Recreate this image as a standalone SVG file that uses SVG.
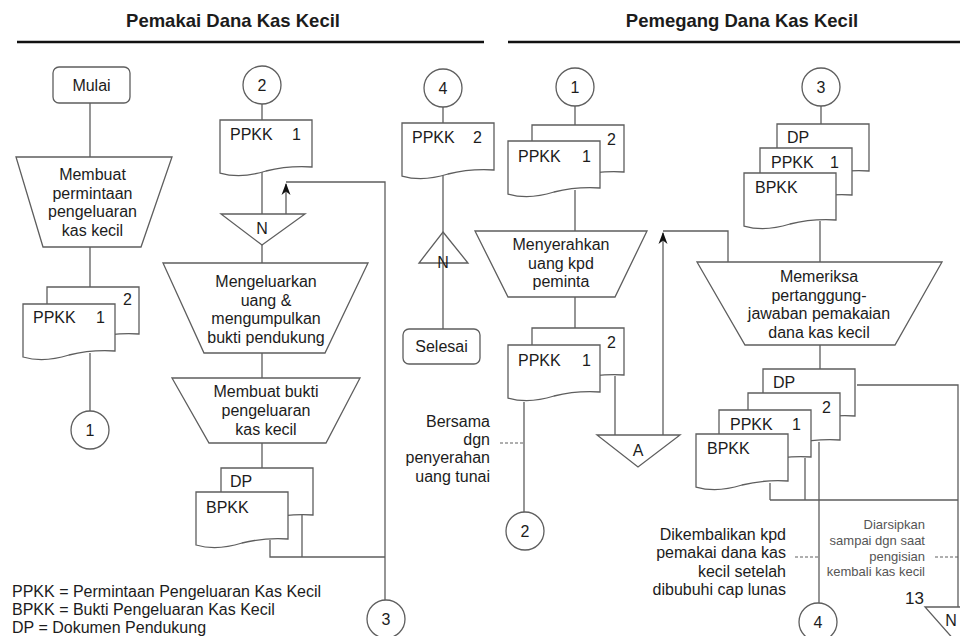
<svg xmlns="http://www.w3.org/2000/svg" xmlns:xlink="http://www.w3.org/1999/xlink" width="960" height="636" viewBox="0 0 960 636">
<style>
.ln{fill:none;stroke:#5e5e5e;stroke-width:1.3}
.sh{fill:#fff;stroke:#5e5e5e;stroke-width:1.3}
.dash{fill:none;stroke:#5e5e5e;stroke-width:1;stroke-dasharray:3,2}
.hd{fill:none;stroke:#111;stroke-width:2.5}
text{font-family:"Liberation Sans",Arial,sans-serif;fill:#1c1c1c}
.t{font-size:16px;text-anchor:middle}
.d{font-size:16px}
.h{font-size:18.5px;font-weight:bold;text-anchor:middle}
.n{font-size:16px;text-anchor:end}
.g{font-size:13px;text-anchor:end;fill:#555}
</style>
<defs>
<path id="doc" d="M0,0 H92 V47 C76,46 62,47 46,51 C30,56 14,57 0,53 Z"/>
<marker id="arr" viewBox="0 0 12 10" refX="11" refY="5" markerWidth="12" markerHeight="10" markerUnits="userSpaceOnUse" orient="auto">
<path d="M0,0.5 L12,5 L0,9.5 L3.5,5 Z" fill="#111"/>
</marker>
</defs>
<rect width="960" height="636" fill="#fff"/>

<g id="headers">
<text class="h" x="233" y="27">Pemakai Dana Kas Kecil</text>
<line class="hd" x1="17" y1="42" x2="484" y2="42"/>
<text class="h" x="742" y="27">Pemegang Dana Kas Kecil</text>
<line class="hd" x1="508" y1="42" x2="960" y2="42"/>
</g>

<g id="connectors">
<!-- column A -->
<path class="ln" d="M90,103 V157 M90,247 V287 M90,353 V411"/>
<!-- column B -->
<path class="ln" d="M262,104 V120 M262,171 V214 M262,245 V263 M262,353 V378 M262,443 V468"/>
<path class="ln" d="M286,214 V184" marker-end="url(#arr)"/>
<path class="ln" d="M286,182 H385 V600"/>
<path class="ln" d="M302,515 V557 M270,540 V557 H385"/>
<!-- column C -->
<path class="ln" d="M443,107 V123 M443,174 V329"/>
<!-- column D -->
<path class="ln" d="M575,106 V125 M575,190 V231 M575,297 V328"/>
<path class="ln" d="M524,402 V512 M615,376 V435"/>
<path class="ln" d="M663,435 V233" marker-end="url(#arr)"/>
<path class="ln" d="M663,231 H728 V262"/>
<line class="dash" x1="500" y1="443" x2="524" y2="443"/>
<!-- column E -->
<path class="ln" d="M821,106 V124 M820,221 V262 M820,345 V369"/>
<path class="ln" d="M770,483 V500 M805,458 V500 M770,500 H958 M819,442 V603"/>
<path class="ln" d="M857,385 H958 V607"/>
<line class="dash" x1="795" y1="557" x2="819" y2="557"/>
<line class="dash" x1="935" y1="557" x2="958" y2="557"/>
</g>

<g id="mulai">
<rect class="sh" x="53" y="67" width="77" height="36" rx="6"/>
<text class="t" x="91.5" y="91">Mulai</text>
</g>
<g id="membuat-permintaan">
<path class="sh" d="M16,157 H172 L141,247 H43 Z"/>
<text class="t" x="92.5" y="180">Membuat</text>
<text class="t" x="92.5" y="198.5">permintaan</text>
<text class="t" x="92.5" y="217">pengeluaran</text>
<text class="t" x="92.5" y="235.5">kas kecil</text>
</g>
<g id="docA">
<use href="#doc" class="sh" x="47" y="287"/>
<text class="d" x="123" y="305">2</text>
<use href="#doc" class="sh" x="23" y="304"/>
<text class="d" x="33" y="323">PPKK</text>
<text class="d" x="96" y="323">1</text>
</g>
<g id="conA1">
<circle class="sh" cx="90" cy="430" r="19"/>
<text class="t" x="90" y="436">1</text>
</g>

<g id="conB2">
<circle class="sh" cx="262" cy="85" r="19"/>
<text class="t" x="262" y="91">2</text>
</g>
<g id="docB1">
<use href="#doc" class="sh" x="220" y="120"/>
<text class="d" x="230" y="140">PPKK</text>
<text class="d" x="292" y="140">1</text>
</g>
<g id="fileB">
<path class="sh" d="M221,214 H305 L262,245 Z"/>
<text class="t" x="262" y="234">N</text>
</g>
<g id="mengeluarkan">
<path class="sh" d="M163,263 H368 L325,353 H204 Z"/>
<text class="t" x="266" y="287">Mengeluarkan</text>
<text class="t" x="266" y="305.5">uang &amp;</text>
<text class="t" x="266" y="324">mengumpulkan</text>
<text class="t" x="266" y="342.5">bukti pendukung</text>
</g>
<g id="membuat-bukti">
<path class="sh" d="M172,378 H360 L326,443 H209 Z"/>
<text class="t" x="266" y="397">Membuat bukti</text>
<text class="t" x="266" y="416">pengeluaran</text>
<text class="t" x="266" y="435">kas kecil</text>
</g>
<g id="docB2">
<use href="#doc" class="sh" x="221" y="468"/>
<text class="d" x="230" y="487">DP</text>
<use href="#doc" class="sh" x="196" y="492"/>
<text class="d" x="206" y="513">BPKK</text>
</g>
<g id="conB3">
<circle class="sh" cx="386" cy="619" r="19"/>
<text class="t" x="386" y="625">3</text>
</g>

<g id="conC4">
<circle class="sh" cx="443" cy="88" r="19"/>
<text class="t" x="443" y="94">4</text>
</g>
<g id="docC">
<use href="#doc" class="sh" x="402" y="123"/>
<text class="d" x="412" y="143">PPKK</text>
<text class="d" x="473" y="143">2</text>
</g>
<g id="fileC">
<path class="sh" d="M443,232 L468,263 H419 Z" fill="none"/>
<line class="ln" x1="443" y1="232" x2="443" y2="263"/>
<text class="t" x="443" y="268">N</text>
</g>
<g id="selesai">
<rect class="sh" x="403" y="329" width="77" height="35" rx="6"/>
<text class="t" x="441.5" y="352">Selesai</text>
</g>

<g id="note-bersama">
<text class="n" x="490" y="427">Bersama</text>
<text class="n" x="490" y="445">dgn</text>
<text class="n" x="490" y="463">penyerahan</text>
<text class="n" x="490" y="482">uang tunai</text>
</g>

<g id="conD1">
<circle class="sh" cx="575" cy="87" r="19"/>
<text class="t" x="575" y="93">1</text>
</g>
<g id="docD1">
<use href="#doc" class="sh" x="532" y="125"/>
<text class="d" x="607" y="145">2</text>
<use href="#doc" class="sh" x="508" y="141"/>
<text class="d" x="518" y="162">PPKK</text>
<text class="d" x="582" y="162">1</text>
</g>
<g id="menyerahkan">
<path class="sh" d="M475,231 H647 L615,297 H508 Z"/>
<text class="t" x="561" y="250">Menyerahkan</text>
<text class="t" x="561" y="268.5">uang kpd</text>
<text class="t" x="561" y="287">peminta</text>
</g>
<g id="docD2">
<use href="#doc" class="sh" x="532" y="328"/>
<text class="d" x="607" y="348">2</text>
<use href="#doc" class="sh" x="508" y="345"/>
<text class="d" x="518" y="366">PPKK</text>
<text class="d" x="582" y="366">1</text>
</g>
<g id="fileA">
<path class="sh" d="M597,435 H680 L638,467 Z"/>
<text class="t" x="638" y="456">A</text>
</g>
<g id="conD2">
<circle class="sh" cx="525" cy="531" r="19"/>
<text class="t" x="525" y="537">2</text>
</g>

<g id="conE3">
<circle class="sh" cx="821" cy="87" r="19"/>
<text class="t" x="821" y="93">3</text>
</g>
<g id="docE1">
<use href="#doc" class="sh" x="777" y="124"/>
<text class="d" x="787" y="143">DP</text>
<use href="#doc" class="sh" x="760" y="148"/>
<text class="d" x="771" y="168">PPKK</text>
<text class="d" x="830" y="168">1</text>
<use href="#doc" class="sh" x="744" y="173"/>
<text class="d" x="755" y="193">BPKK</text>
</g>
<g id="memeriksa">
<path class="sh" d="M697,262 H942 L895,345 H745 Z"/>
<text class="t" x="819" y="282">Memeriksa</text>
<text class="t" x="819" y="300.5">pertanggung-</text>
<text class="t" x="819" y="319">jawaban pemakaian</text>
<text class="t" x="819" y="337.5">dana kas kecil</text>
</g>
<g id="docE2">
<use href="#doc" class="sh" x="763" y="369"/>
<text class="d" x="773" y="388">DP</text>
<use href="#doc" class="sh" x="748" y="393"/>
<text class="d" x="822" y="413">2</text>
<use href="#doc" class="sh" x="719" y="410"/>
<text class="d" x="730" y="430">PPKK</text>
<text class="d" x="792" y="430">1</text>
<use href="#doc" class="sh" x="696" y="434"/>
<text class="d" x="707" y="454">BPKK</text>
</g>
<g id="conE4">
<circle class="sh" cx="818" cy="622" r="19"/>
<text class="t" x="818" y="628">4</text>
</g>
<g id="fileE">
<path class="sh" d="M925,607 H988 L956,642 Z"/>
<text class="t" x="951" y="626">N</text>
<text class="d" x="905" y="604" style="font-size:17px">13</text>
</g>

<g id="note-dikembalikan">
<text class="n" x="786" y="540">Dikembalikan kpd</text>
<text class="n" x="786" y="558">pemakai dana kas</text>
<text class="n" x="786" y="577">kecil setelah</text>
<text class="n" x="786" y="595">dibubuhi cap lunas</text>
</g>
<g id="note-diarsipkan">
<text class="g" x="925" y="529">Diarsipkan</text>
<text class="g" x="925" y="545">sampai dgn saat</text>
<text class="g" x="925" y="561">pengisian</text>
<text class="g" x="925" y="576">kembali kas kecil</text>
</g>

<g id="legend">
<text class="d" x="12" y="597">PPKK = Permintaan Pengeluaran Kas Kecil</text>
<text class="d" x="12" y="615">BPKK = Bukti Pengeluaran Kas Kecil</text>
<text class="d" x="12" y="633">DP = Dokumen Pendukung</text>
</g>
</svg>
